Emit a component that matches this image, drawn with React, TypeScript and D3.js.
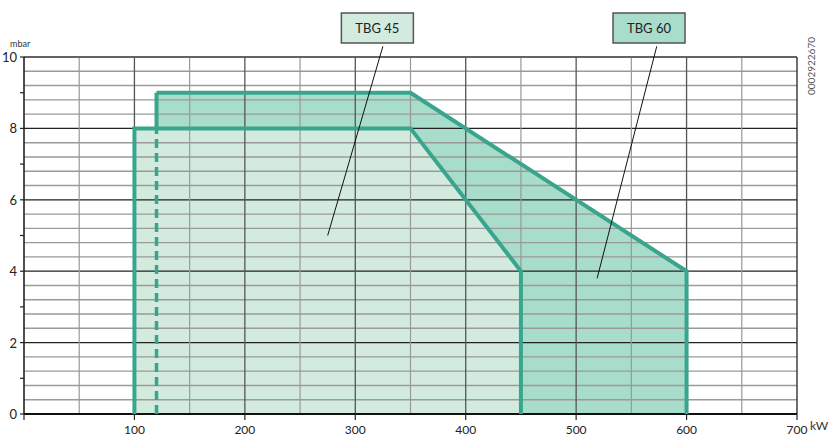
import { useMemo } from 'react';
import * as d3 from 'd3';

const W = 828;
const H = 437;
const margin = { top: 57, right: 31, bottom: 23, left: 24 };

// chart values
const xTicks = [100, 200, 300, 400, 500, 600, 700];
const yTicks = [0, 2, 4, 6, 8, 10];
const tbg45: [number, number][] = [[100, 0], [100, 8], [350, 8], [450, 4], [450, 0]];
const tbg60: [number, number][] = [[120, 0], [120, 9], [350, 9], [600, 4], [600, 0]];
const labels = [
    { name: 'TBG 45', box: 320, fill: '#d3ebde', from: [325, 10.3], to: [275, 5] },
    { name: 'TBG 60', box: 566, fill: '#a8dccb', from: [573, 10.3], to: [519, 3.8] },
];

const teal = '#39a58d';

export default function App() {
    const bw = W - margin.left - margin.right;
    const bh = H - margin.top - margin.bottom;

    const x = useMemo(() => d3.scaleLinear().domain([0, 700]).range([0, bw]), [bw]);
    const y = useMemo(() => d3.scaleLinear().domain([0, 10]).range([bh, 0]), [bh]);

    const line = d3.line<[number, number]>().x(d => x(d[0])).y(d => y(d[1]));

    const vGrid = d3.range(50, 701, 50);
    const hGrid = d3.range(0, 26).map(i => +(i * 0.4).toFixed(1));

    // TBG 60 left edge: dashed where it runs inside TBG 45, solid above
    const edgeTop = tbg45[1][1];

    return (
        <svg width={W} height={H} style={{ position: 'absolute', left: 0, top: 0, fontFamily: 'Lato, "Open Sans", sans-serif' }}>
            <g transform={`translate(${margin.left},${margin.top})`}>
                {/* fills */}
                <path d={line(tbg60) + 'Z'} fill="#a8dccb" stroke="none" />
                <path d={line(tbg45) + 'Z'} fill="#d3ebde" stroke="none" />

                {/* grid */}
                {hGrid.map(v => {
                    const major = Math.abs(v % 2) < 1e-6;
                    return (
                        <line key={'h' + v} x1={0} x2={bw} y1={y(v)} y2={y(v)}
                            stroke={major ? '#222' : '#9a9a9a'} strokeWidth={major ? 1.2 : 1.4} />
                    );
                })}
                {vGrid.map(v => {
                    const major = v % 100 === 0;
                    return (
                        <line key={'v' + v} x1={x(v)} x2={x(v)} y1={0} y2={bh}
                            stroke={v === 700 ? '#222' : major ? '#555' : '#999'} strokeWidth={major ? 1.3 : 1.2} />
                    );
                })}
                <line x1={0} x2={bw} y1={0} y2={0} stroke="#555" strokeWidth={1.6} />

                {/* axes */}
                <line x1={0} x2={0} y1={0} y2={bh} stroke="#222" strokeWidth={1.6} />
                <line x1={0} x2={bw} y1={bh} y2={bh} stroke="#111" strokeWidth={2} />
                {d3.range(0, 11).map(v => (
                    <line key={'yt' + v} x1={-4} x2={0} y1={y(v)} y2={y(v)} stroke="#222" strokeWidth={1.2} />
                ))}
                {[0, ...xTicks].map(v => (
                    <line key={'xt' + v} x1={x(v)} x2={x(v)} y1={bh} y2={bh + 6} stroke="#222" strokeWidth={1.2} />
                ))}
                {yTicks.map(v => (
                    <text key={'yl' + v} x={-7} y={y(v) + 5} textAnchor="end" fontSize={13} fill="#222">{v}</text>
                ))}
                {xTicks.map(v => (
                    <text key={'xl' + v} x={x(v)} y={bh + 20} textAnchor="middle" fontSize={12} fill="#222">{v}</text>
                ))}

                {/* outlines */}
                <path d={line(tbg60.slice(1)) || ''} fill="none" stroke={teal} strokeWidth={4} strokeLinejoin="miter" />
                <path d={line([[tbg60[0][0], edgeTop], tbg60[1]]) || ''} fill="none" stroke={teal} strokeWidth={4} />
                <path d={line([tbg60[0], [tbg60[0][0], edgeTop]]) || ''} fill="none" stroke={teal} strokeWidth={3.5} strokeDasharray="9,5" />
                <path d={line(tbg45) || ''} fill="none" stroke={teal} strokeWidth={4} strokeLinejoin="miter" />

                {/* labels */}
                {labels.map(l => (
                    <g key={l.name}>
                        <line x1={x(l.from[0])} y1={y(l.from[1])} x2={x(l.to[0])} y2={y(l.to[1])} stroke="#111" strokeWidth={1} />
                        <rect x={x(l.box) - 36} y={-44} width={72} height={30} fill={l.fill} stroke="#555" strokeWidth={1.5} />
                        <text x={x(l.box)} y={-24} textAnchor="middle" fontSize={13} fill="#222">{l.name}</text>
                    </g>
                ))}
            </g>
            <text x={10} y={47} fontSize={9} fill="#333">mbar</text>
            <text x={810} y={430} fontSize={12} fill="#333">kW</text>
            <text transform="translate(815,95) rotate(-90)" fontSize={10} fill="#555">0002922670</text>
        </svg>
    );
}
